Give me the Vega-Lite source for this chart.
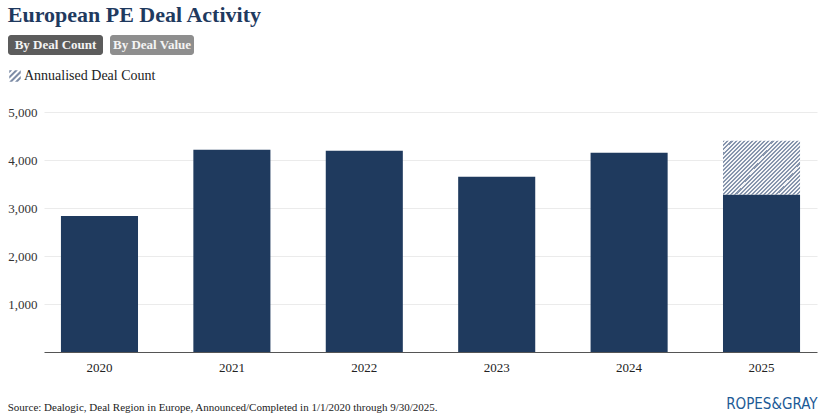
{
  "$schema": "https://vega.github.io/schema/vega-lite/v6.json",
  "padding": {"left": 7, "top": 4, "right": 5, "bottom": 2},
  "background": "white",
  "title": {"text": "European PE Deal Activity", "anchor": "start", "font": "Liberation Serif", "fontSize": 22, "fontWeight": "bold", "color": "#1f3a5f", "offset": 8},
  "config": {"font": "Liberation Serif", "view": {"stroke": null}},
  "datasets": {
    "deals": [
      {"year": "2020", "count": 2833},
      {"year": "2021", "count": 4215},
      {"year": "2022", "count": 4194},
      {"year": "2023", "count": 3652},
      {"year": "2024", "count": 4152},
      {"year": "2025", "count": 3283, "annualised": 4400}
    ],
    "btn1": [{"label": "By Deal Count"}],
    "btn2": [{"label": "By Deal Value"}]
  },
  "resolve": {"legend": {"fill": "independent"}},
  "spacing": 14,
  "vconcat": [
    {
      "spacing": 7,
      "hconcat": [
        {
          "width": 95, "height": 20,
          "data": {"name": "btn1"},
          "layer": [
            {"mark": {"type": "rect", "fill": "#5c5c5c", "cornerRadius": 3}, "encoding": {}},
            {"mark": {"type": "text", "color": "#f4f4f4", "fontSize": 13, "fontWeight": "bold", "font": "Liberation Serif"}, "encoding": {"text": {"field": "label"}}}
          ]
        },
        {
          "width": 84, "height": 20,
          "data": {"name": "btn2"},
          "layer": [
            {"mark": {"type": "rect", "fill": "#8e8e8e", "cornerRadius": 3}, "encoding": {}},
            {"mark": {"type": "text", "color": "#f4f4f4", "fontSize": 13, "fontWeight": "bold", "font": "Liberation Serif"}, "encoding": {"text": {"field": "label"}}}
          ]
        }
      ]
    },
    {
      "width": 809, "height": 240,
      "data": {"name": "deals"},
      "title": {"text": "Source: Dealogic, Deal Region in Europe, Announced/Completed in 1/1/2020 through 9/30/2025.", "orient": "bottom", "anchor": "start", "offset": -9, "fontSize": 11, "fontWeight": "normal", "font": "Liberation Serif", "color": "#222222"},
      "encoding": {
        "x": {"field": "year", "type": "ordinal",
          "scale": {"range": [36, 809], "paddingInner": 0.418, "paddingOuter": 0.128},
          "axis": {"labelAngle": 0, "ticks": false, "domainColor": "#555555", "domainWidth": 1, "labelPadding": 9, "labelFontSize": 13, "labelColor": "#222222", "labelFont": "Liberation Serif",
            "title": "ROPES&GRAY", "titleAnchor": "end", "titleFont": "Liberation Sans Narrow, DejaVu Sans Condensed", "titleFontSize": 15, "titleFontWeight": "normal", "titleColor": "#1c5a96", "titlePadding": 22}}
      },
      "layer": [
        {
          "mark": {"type": "bar", "fill": "#1f3a5e"},
          "encoding": {
            "y": {"field": "count", "type": "quantitative",
              "scale": {"domain": [0, 5000], "nice": false},
              "axis": {"title": null, "offset": -36, "values": [1000, 2000, 3000, 4000, 5000], "format": ",d", "domain": false, "ticks": false, "labelPadding": 7, "labelFontSize": 13, "labelColor": "#333333", "labelFont": "Liberation Serif", "gridColor": "#ebebeb", "gridWidth": 1}}
          }
        },
        {
          "transform": [{"filter": "isValid(datum.annualised)"}],
          "mark": {"type": "bar", "fill": {"gradient": "linear", "x1": 0, "y1": 0, "x2": 1.141, "y2": 0.8, "stops": [
            {"offset": 0, "color": "#8695ad"}, {"offset": 0.015625, "color": "#8695ad"}, {"offset": 0.015625, "color": "#f5f6f8"}, {"offset": 0.03125, "color": "#f5f6f8"},
            {"offset": 0.03125, "color": "#8695ad"}, {"offset": 0.046875, "color": "#8695ad"}, {"offset": 0.046875, "color": "#f5f6f8"}, {"offset": 0.0625, "color": "#f5f6f8"},
            {"offset": 0.0625, "color": "#8695ad"}, {"offset": 0.078125, "color": "#8695ad"}, {"offset": 0.078125, "color": "#f5f6f8"}, {"offset": 0.09375, "color": "#f5f6f8"},
            {"offset": 0.09375, "color": "#8695ad"}, {"offset": 0.109375, "color": "#8695ad"}, {"offset": 0.109375, "color": "#f5f6f8"}, {"offset": 0.125, "color": "#f5f6f8"},
            {"offset": 0.125, "color": "#8695ad"}, {"offset": 0.140625, "color": "#8695ad"}, {"offset": 0.140625, "color": "#f5f6f8"}, {"offset": 0.15625, "color": "#f5f6f8"},
            {"offset": 0.15625, "color": "#8695ad"}, {"offset": 0.171875, "color": "#8695ad"}, {"offset": 0.171875, "color": "#f5f6f8"}, {"offset": 0.1875, "color": "#f5f6f8"},
            {"offset": 0.1875, "color": "#8695ad"}, {"offset": 0.203125, "color": "#8695ad"}, {"offset": 0.203125, "color": "#f5f6f8"}, {"offset": 0.21875, "color": "#f5f6f8"},
            {"offset": 0.21875, "color": "#8695ad"}, {"offset": 0.234375, "color": "#8695ad"}, {"offset": 0.234375, "color": "#f5f6f8"}, {"offset": 0.25, "color": "#f5f6f8"},
            {"offset": 0.25, "color": "#8695ad"}, {"offset": 0.265625, "color": "#8695ad"}, {"offset": 0.265625, "color": "#f5f6f8"}, {"offset": 0.28125, "color": "#f5f6f8"},
            {"offset": 0.28125, "color": "#8695ad"}, {"offset": 0.296875, "color": "#8695ad"}, {"offset": 0.296875, "color": "#f5f6f8"}, {"offset": 0.3125, "color": "#f5f6f8"},
            {"offset": 0.3125, "color": "#8695ad"}, {"offset": 0.328125, "color": "#8695ad"}, {"offset": 0.328125, "color": "#f5f6f8"}, {"offset": 0.34375, "color": "#f5f6f8"},
            {"offset": 0.34375, "color": "#8695ad"}, {"offset": 0.359375, "color": "#8695ad"}, {"offset": 0.359375, "color": "#f5f6f8"}, {"offset": 0.375, "color": "#f5f6f8"},
            {"offset": 0.375, "color": "#8695ad"}, {"offset": 0.390625, "color": "#8695ad"}, {"offset": 0.390625, "color": "#f5f6f8"}, {"offset": 0.40625, "color": "#f5f6f8"},
            {"offset": 0.40625, "color": "#8695ad"}, {"offset": 0.421875, "color": "#8695ad"}, {"offset": 0.421875, "color": "#f5f6f8"}, {"offset": 0.4375, "color": "#f5f6f8"},
            {"offset": 0.4375, "color": "#8695ad"}, {"offset": 0.453125, "color": "#8695ad"}, {"offset": 0.453125, "color": "#f5f6f8"}, {"offset": 0.46875, "color": "#f5f6f8"},
            {"offset": 0.46875, "color": "#8695ad"}, {"offset": 0.484375, "color": "#8695ad"}, {"offset": 0.484375, "color": "#f5f6f8"}, {"offset": 0.5, "color": "#f5f6f8"},
            {"offset": 0.5, "color": "#8695ad"}, {"offset": 0.515625, "color": "#8695ad"}, {"offset": 0.515625, "color": "#f5f6f8"}, {"offset": 0.53125, "color": "#f5f6f8"},
            {"offset": 0.53125, "color": "#8695ad"}, {"offset": 0.546875, "color": "#8695ad"}, {"offset": 0.546875, "color": "#f5f6f8"}, {"offset": 0.5625, "color": "#f5f6f8"},
            {"offset": 0.5625, "color": "#8695ad"}, {"offset": 0.578125, "color": "#8695ad"}, {"offset": 0.578125, "color": "#f5f6f8"}, {"offset": 0.59375, "color": "#f5f6f8"},
            {"offset": 0.59375, "color": "#8695ad"}, {"offset": 0.609375, "color": "#8695ad"}, {"offset": 0.609375, "color": "#f5f6f8"}, {"offset": 0.625, "color": "#f5f6f8"},
            {"offset": 0.625, "color": "#8695ad"}, {"offset": 0.640625, "color": "#8695ad"}, {"offset": 0.640625, "color": "#f5f6f8"}, {"offset": 0.65625, "color": "#f5f6f8"},
            {"offset": 0.65625, "color": "#8695ad"}, {"offset": 0.671875, "color": "#8695ad"}, {"offset": 0.671875, "color": "#f5f6f8"}, {"offset": 0.6875, "color": "#f5f6f8"},
            {"offset": 0.6875, "color": "#8695ad"}, {"offset": 0.703125, "color": "#8695ad"}, {"offset": 0.703125, "color": "#f5f6f8"}, {"offset": 0.71875, "color": "#f5f6f8"},
            {"offset": 0.71875, "color": "#8695ad"}, {"offset": 0.734375, "color": "#8695ad"}, {"offset": 0.734375, "color": "#f5f6f8"}, {"offset": 0.75, "color": "#f5f6f8"},
            {"offset": 0.75, "color": "#8695ad"}, {"offset": 0.765625, "color": "#8695ad"}, {"offset": 0.765625, "color": "#f5f6f8"}, {"offset": 0.78125, "color": "#f5f6f8"},
            {"offset": 0.78125, "color": "#8695ad"}, {"offset": 0.796875, "color": "#8695ad"}, {"offset": 0.796875, "color": "#f5f6f8"}, {"offset": 0.8125, "color": "#f5f6f8"},
            {"offset": 0.8125, "color": "#8695ad"}, {"offset": 0.828125, "color": "#8695ad"}, {"offset": 0.828125, "color": "#f5f6f8"}, {"offset": 0.84375, "color": "#f5f6f8"},
            {"offset": 0.84375, "color": "#8695ad"}, {"offset": 0.859375, "color": "#8695ad"}, {"offset": 0.859375, "color": "#f5f6f8"}, {"offset": 0.875, "color": "#f5f6f8"},
            {"offset": 0.875, "color": "#8695ad"}, {"offset": 0.890625, "color": "#8695ad"}, {"offset": 0.890625, "color": "#f5f6f8"}, {"offset": 0.90625, "color": "#f5f6f8"},
            {"offset": 0.90625, "color": "#8695ad"}, {"offset": 0.921875, "color": "#8695ad"}, {"offset": 0.921875, "color": "#f5f6f8"}, {"offset": 0.9375, "color": "#f5f6f8"},
            {"offset": 0.9375, "color": "#8695ad"}, {"offset": 0.953125, "color": "#8695ad"}, {"offset": 0.953125, "color": "#f5f6f8"}, {"offset": 0.96875, "color": "#f5f6f8"},
            {"offset": 0.96875, "color": "#8695ad"}, {"offset": 0.984375, "color": "#8695ad"}, {"offset": 0.984375, "color": "#f5f6f8"}, {"offset": 1, "color": "#f5f6f8"}
          ]}},
          "encoding": {
            "y": {"field": "annualised", "type": "quantitative"},
            "y2": {"field": "count"}
          }
        },
        {
          "transform": [{"filter": "isValid(datum.annualised)"}],
          "mark": {"type": "square", "opacity": 0, "size": 10},
          "encoding": {
            "y": {"field": "annualised", "type": "quantitative"},
            "fill": {"datum": "Annualised Deal Count", "scale": {"range": ["#7d8ca6"]},
              "legend": {"orient": "none", "legendX": 0, "legendY": -43, "title": null,
                "symbolType": "M-1,-1L-0.5,-1L-1,-0.5ZM0,-1L0.5,-1L-1,0.5L-1,0ZM1,-1L1,-0.5L-0.5,1L-1,1ZM1,0L1,0.5L0.5,1L0,1Z",
                "symbolSize": 132, "symbolOpacity": 1, "symbolStrokeWidth": 0,
                "labelFont": "Liberation Serif", "labelFontSize": 14, "labelColor": "#222222", "labelOffset": 2}}
          }
        }
      ]
    }
  ]
}
